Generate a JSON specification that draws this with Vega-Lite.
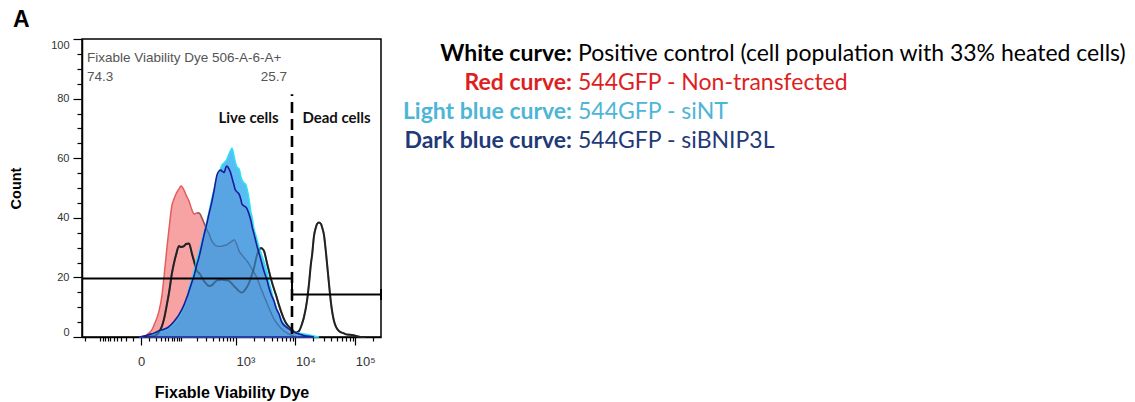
{
  "$schema": "https://vega.github.io/schema/vega-lite/v6.json",
  "padding": {"left": 7, "top": 8, "right": 0, "bottom": 0},
  "background": "white",
  "title": {"text": "A", "anchor": "start", "font": "Liberation Sans", "fontSize": 23, "fontWeight": "bold", "color": "#000", "offset": 6, "dx": 5},
  "datasets": {
    "red": [
      {"x": -2.1, "y": 0}, {"x": 3.3, "y": 0.2}, {"x": 9.6, "y": 1.3}, {"x": 14.1, "y": 2.5}, {"x": 17.4, "y": 4.0},
      {"x": 22.7, "y": 6.5}, {"x": 26.7, "y": 8.7}, {"x": 33.2, "y": 14.1}, {"x": 38.0, "y": 20.1}, {"x": 45.9, "y": 30.2},
      {"x": 51.7, "y": 36.2}, {"x": 61.3, "y": 44.3}, {"x": 68.3, "y": 46.3}, {"x": 75.9, "y": 48.0}, {"x": 88.4, "y": 49.7},
      {"x": 97.6, "y": 50.7}, {"x": 112.8, "y": 49.3}, {"x": 123.9, "y": 47.7}, {"x": 142.3, "y": 45.6}, {"x": 162.9, "y": 42.6},
      {"x": 178.0, "y": 41.3}, {"x": 203.1, "y": 41.6}, {"x": 221.4, "y": 41.6}, {"x": 251.7, "y": 39.9}, {"x": 273.9, "y": 38.3},
      {"x": 310.6, "y": 35.9}, {"x": 337.5, "y": 34.6}, {"x": 382, "y": 32.2}, {"x": 414.7, "y": 31.2}, {"x": 468.4, "y": 30.5},
      {"x": 507.9, "y": 30.4}, {"x": 573.2, "y": 30.5}, {"x": 621, "y": 30.7}, {"x": 700.1, "y": 30.9}, {"x": 758.1, "y": 31.5},
      {"x": 853.9, "y": 32.2}, {"x": 924.1, "y": 32.6}, {"x": 1040, "y": 30.9}, {"x": 1125, "y": 28.9}, {"x": 1266, "y": 27.5},
      {"x": 1369, "y": 26.7}, {"x": 1539, "y": 25.5}, {"x": 1664, "y": 24.5}, {"x": 1871, "y": 22.8}, {"x": 2022, "y": 21.8},
      {"x": 2272, "y": 19.8}, {"x": 2455, "y": 18.1}, {"x": 2758, "y": 15.4}, {"x": 2980, "y": 13.8}, {"x": 3347, "y": 11.4},
      {"x": 3616, "y": 9.7}, {"x": 4388, "y": 6.0}, {"x": 5321, "y": 3.7}, {"x": 6451, "y": 2.0}, {"x": 7822, "y": 1.0},
      {"x": 9482, "y": 0.3}, {"x": 11496, "y": 0}
    ],
    "white": [
      {"x": 3.3, "y": 0}, {"x": 9.6, "y": 0.2}, {"x": 17.4, "y": 0.3}, {"x": 26.7, "y": 1.7}, {"x": 33.2, "y": 3.7},
      {"x": 38.0, "y": 6.0}, {"x": 45.9, "y": 11.1}, {"x": 51.7, "y": 14.8}, {"x": 61.3, "y": 21.5}, {"x": 68.3, "y": 24.8},
      {"x": 75.9, "y": 27.5}, {"x": 88.4, "y": 30.5}, {"x": 97.6, "y": 30.2}, {"x": 112.8, "y": 30.5}, {"x": 123.9, "y": 31.2},
      {"x": 142.3, "y": 31.4}, {"x": 162.9, "y": 27.9}, {"x": 178, "y": 25.5}, {"x": 203.1, "y": 22.1}, {"x": 221.4, "y": 21.5},
      {"x": 251.7, "y": 20.0}, {"x": 273.9, "y": 18.8}, {"x": 310.6, "y": 17.6}, {"x": 337.5, "y": 17.1}, {"x": 382, "y": 17.4},
      {"x": 414.7, "y": 18.1}, {"x": 468.4, "y": 19.0}, {"x": 507.9, "y": 19.1}, {"x": 573.2, "y": 19.3}, {"x": 621, "y": 19.1},
      {"x": 700.1, "y": 19.0}, {"x": 758.1, "y": 18.8}, {"x": 853.9, "y": 17.8}, {"x": 924.1, "y": 17.1}, {"x": 1040, "y": 16.1},
      {"x": 1125, "y": 15.4}, {"x": 1266, "y": 14.9}, {"x": 1369, "y": 15.4}, {"x": 1539, "y": 16.8}, {"x": 1664, "y": 18.1},
      {"x": 1871, "y": 21.0}, {"x": 2022, "y": 23.2}, {"x": 2272, "y": 27.5}, {"x": 2455, "y": 29.2}, {"x": 2653, "y": 29.9},
      {"x": 2758, "y": 29.7}, {"x": 2980, "y": 28.9}, {"x": 3347, "y": 24.8}, {"x": 3616, "y": 22.1}, {"x": 3907, "y": 19.5},
      {"x": 4388, "y": 16.1}, {"x": 4739, "y": 14.1}, {"x": 5321, "y": 10.7}, {"x": 5973, "y": 7.7}, {"x": 6451, "y": 6.0},
      {"x": 6968, "y": 4.7}, {"x": 7822, "y": 3.4}, {"x": 8779, "y": 2.5}, {"x": 9482, "y": 1.8}, {"x": 10240, "y": 1.5},
      {"x": 11496, "y": 2.0}, {"x": 12899, "y": 4.4}, {"x": 13933, "y": 6.7}, {"x": 15634, "y": 12.1}, {"x": 16883, "y": 17.8},
      {"x": 18232, "y": 24.8}, {"x": 18946, "y": 27.2}, {"x": 20460, "y": 33.9}, {"x": 22094, "y": 36.9}, {"x": 22960, "y": 37.9},
      {"x": 24793, "y": 38.4}, {"x": 26773, "y": 37.9}, {"x": 27824, "y": 36.9}, {"x": 30042, "y": 34.2}, {"x": 32441, "y": 28.2},
      {"x": 33712, "y": 24.8}, {"x": 36404, "y": 17.8}, {"x": 39311, "y": 11.4}, {"x": 44126, "y": 5.4}, {"x": 53447, "y": 2.0},
      {"x": 64749, "y": 1.2}, {"x": 72662, "y": 0.8}, {"x": 88035, "y": 0.7}, {"x": 106667, "y": 0.3}, {"x": 124368, "y": 0},
      {"x": 150682, "y": 0}
    ],
    "lightblue": [
      {"x": -2.1, "y": 0}, {"x": 3.3, "y": 0.2}, {"x": 9.6, "y": 0.7}, {"x": 17.4, "y": 1.3}, {"x": 26.7, "y": 2.0},
      {"x": 38.0, "y": 2.3}, {"x": 51.7, "y": 3.0}, {"x": 68.3, "y": 4.3}, {"x": 88.4, "y": 6.5}, {"x": 112.8, "y": 10.0},
      {"x": 129.8, "y": 13.0}, {"x": 142.3, "y": 16.4}, {"x": 162.9, "y": 19.5}, {"x": 178, "y": 22.1}, {"x": 203.1, "y": 26.2},
      {"x": 221.4, "y": 28.5}, {"x": 251.7, "y": 32.2}, {"x": 273.9, "y": 34.9}, {"x": 310.6, "y": 38.9}, {"x": 337.5, "y": 41.9},
      {"x": 382, "y": 46.6}, {"x": 414.7, "y": 49.3}, {"x": 468.4, "y": 53.4}, {"x": 507.9, "y": 55.0}, {"x": 573.2, "y": 57.7},
      {"x": 621, "y": 58.4}, {"x": 672.7, "y": 59.1}, {"x": 700.1, "y": 59.7}, {"x": 758.1, "y": 61.4}, {"x": 820.7, "y": 62.8},
      {"x": 853.9, "y": 63.3}, {"x": 924.1, "y": 60.7}, {"x": 961.3, "y": 59.1}, {"x": 1040, "y": 57.0}, {"x": 1125, "y": 56.4},
      {"x": 1217, "y": 53.7}, {"x": 1266, "y": 52.7}, {"x": 1369, "y": 51.7}, {"x": 1480, "y": 51.0}, {"x": 1539, "y": 49.7},
      {"x": 1664, "y": 46.3}, {"x": 1799, "y": 41.6}, {"x": 1871, "y": 40.3}, {"x": 2022, "y": 36.2}, {"x": 2185, "y": 33.9},
      {"x": 2272, "y": 32.6}, {"x": 2455, "y": 30.2}, {"x": 2653, "y": 28.2}, {"x": 2758, "y": 27.2}, {"x": 2980, "y": 25.2},
      {"x": 3347, "y": 21.8}, {"x": 3616, "y": 18.5}, {"x": 3907, "y": 16.0}, {"x": 4388, "y": 12.1}, {"x": 4739, "y": 10.1},
      {"x": 5321, "y": 7.7}, {"x": 5973, "y": 5.4}, {"x": 6451, "y": 4.4}, {"x": 7822, "y": 2.7}, {"x": 9482, "y": 1.8},
      {"x": 11496, "y": 1.3}, {"x": 13933, "y": 1.0}, {"x": 16883, "y": 0.7}, {"x": 20460, "y": 0.3}, {"x": 24793, "y": 0}
    ],
    "darkblue": [
      {"x": -2.1, "y": 0}, {"x": 3.3, "y": 0.3}, {"x": 9.6, "y": 0.8}, {"x": 17.4, "y": 1.3}, {"x": 26.7, "y": 2.1},
      {"x": 38.0, "y": 2.6}, {"x": 51.7, "y": 3.5}, {"x": 68.3, "y": 5.2}, {"x": 88.4, "y": 7.5}, {"x": 112.8, "y": 10.8},
      {"x": 129.8, "y": 13.4}, {"x": 142.3, "y": 15.4}, {"x": 162.9, "y": 18.5}, {"x": 178, "y": 20.5}, {"x": 203.1, "y": 24.5},
      {"x": 221.4, "y": 26.8}, {"x": 251.7, "y": 31.2}, {"x": 273.9, "y": 34.2}, {"x": 310.6, "y": 38.3}, {"x": 337.5, "y": 41.3},
      {"x": 382, "y": 45.6}, {"x": 414.7, "y": 49.0}, {"x": 468.4, "y": 54.4}, {"x": 507.9, "y": 55.7}, {"x": 550.6, "y": 56.0},
      {"x": 573.2, "y": 55.7}, {"x": 621, "y": 55.2}, {"x": 672.7, "y": 57.0}, {"x": 700.1, "y": 57.4}, {"x": 758.1, "y": 56.4},
      {"x": 820.7, "y": 54.7}, {"x": 853.9, "y": 53.4}, {"x": 924.1, "y": 51.0}, {"x": 961.3, "y": 49.7}, {"x": 1040, "y": 48.7},
      {"x": 1125, "y": 48.0}, {"x": 1217, "y": 46.0}, {"x": 1266, "y": 44.6}, {"x": 1369, "y": 44.0}, {"x": 1480, "y": 43.5},
      {"x": 1539, "y": 43.0}, {"x": 1664, "y": 41.3}, {"x": 1799, "y": 38.9}, {"x": 1871, "y": 37.2}, {"x": 2022, "y": 34.6},
      {"x": 2185, "y": 31.9}, {"x": 2272, "y": 30.5}, {"x": 2455, "y": 28.2}, {"x": 2653, "y": 25.8}, {"x": 2758, "y": 24.5},
      {"x": 2980, "y": 22.1}, {"x": 3347, "y": 19.1}, {"x": 3616, "y": 16.5}, {"x": 3907, "y": 14.4}, {"x": 4388, "y": 12.1},
      {"x": 4739, "y": 9.8}, {"x": 5321, "y": 7.7}, {"x": 5973, "y": 4.8}, {"x": 6451, "y": 4.0}, {"x": 7822, "y": 2.7},
      {"x": 9482, "y": 1.7}, {"x": 11496, "y": 1.0}, {"x": 13933, "y": 0.5}, {"x": 16883, "y": 0.2}, {"x": 20460, "y": 0}
    ],
    "gateH": [{"x": -231, "x2": 8779, "y": 19.6}, {"x": 8779, "x2": 268000, "y": 14.3}],
    "gateTicks": [{"x": 8779, "y": 12.1, "y2": 19.9}, {"x": 268000, "y": 12.4, "y2": 16.1}],
    "divider": [{"x": 8779, "y": 1, "y2": 81.5}],
    "notesLeft": [{"t": "Fixable Viability Dye 506-A-6-A+", "x": -186, "y": 93.6}, {"t": "74.3", "x": -186, "y": 87.2}],
    "notesRight": [{"t": "25.7", "x": 7244, "y": 87.2}],
    "cellLabels": [{"t": "Live cells", "x": 1632, "y": 73.5}, {"t": "Dead cells", "x": 48562, "y": 73.5}],
    "legendRows": [
      {"i": 0, "k": "White", "label": "White curve:", "desc": "Positive control (cell population with 33% heated cells)"},
      {"i": 1, "k": "Red", "label": "Red curve:", "desc": "544GFP - Non-transfected"},
      {"i": 2, "k": "Light blue", "label": "Light blue curve:", "desc": "544GFP - siNT"},
      {"i": 3, "k": "Dark blue", "label": "Dark blue curve:", "desc": "544GFP - siBNIP3L"}
    ]
  },
  "spacing": 10,
  "hconcat": [
    {
      "width": 299,
      "height": 298,
      "view": {"stroke": "#000", "strokeWidth": 1.5},
      "layer": [
        {
          "data": {"name": "red"},
          "mark": {"type": "area", "interpolate": "monotone", "fill": "#f7a3a3", "fillOpacity": 1, "stroke": "#e35d5d", "strokeWidth": 1.5},
          "encoding": {
            "x": {
              "field": "x", "type": "quantitative",
              "scale": {"type": "symlog", "constant": 26.8, "domain": [-231, 268000], "nice": false, "zero": false},
              "axis": {
                "title": "Fixable Viability Dye",
                "grid": false,
                "tickCount": 1000,
                "values": [-200, -100, -90, -80, -70, -60, -50, -40, -30, -20, -10, 0, 10, 20, 30, 40, 50, 60, 70, 80, 90, 100, 200, 300, 400, 500, 600, 700, 800, 900, 1000, 2000, 3000, 4000, 5000, 6000, 7000, 8000, 9000, 10000, 20000, 30000, 40000, 50000, 60000, 70000, 80000, 90000, 100000, 200000],
                "labelExpr": "datum.value == 0 ? '0' : datum.value == 1000 ? '10³' : datum.value == 10000 ? '10⁴' : datum.value == 100000 ? '10⁵' : ''",
                "labelOverlap": false, "labelBound": false, "labelFlush": false,
                "labelAlign": {"condition": {"test": "datum.value == 0", "value": "center"}, "value": "left"},
                "tickSize": {"condition": {"test": "datum.value == 0 || datum.value == 1000 || datum.value == 10000 || datum.value == 100000", "value": 8}, "value": 4},
                "tickColor": "#000", "tickWidth": 1.2,
                "domainColor": "#000", "domainWidth": 1.5,
                "labelFont": "Liberation Sans", "labelFontSize": 13, "labelColor": "#333", "labelPadding": 10,
                "titleFont": "Liberation Sans", "titleFontSize": 16, "titleFontWeight": "bold", "titleColor": "#000", "titlePadding": 16
              }
            },
            "y": {
              "field": "y", "type": "quantitative",
              "scale": {"domain": [0, 100], "nice": false},
              "axis": {
                "title": "Count",
                "grid": false,
                "tickCount": 1000,
                "values": [0, 5, 10, 15, 20, 25, 30, 35, 40, 45, 50, 55, 60, 65, 70, 75, 80, 85, 90, 95, 100],
                "labelExpr": "datum.value % 20 == 0 ? format(datum.value, 'd') : ''",
                "labelOverlap": false, "labelFlush": true,
                "tickSize": {"condition": {"test": "datum.value % 20 == 0", "value": 9}, "value": 5},
                "tickColor": "#000", "tickWidth": 1.2,
                "domainColor": "#000", "domainWidth": 1.5,
                "labelFont": "Liberation Sans", "labelFontSize": 11, "labelColor": "#333", "labelPadding": 4,
                "titleFont": "Liberation Sans", "titleFontSize": 14.5, "titleFontWeight": "bold", "titleColor": "#000", "titlePadding": 27
              }
            }
          }
        },
        {
          "data": {"name": "white"},
          "mark": {"type": "line", "interpolate": "monotone", "color": "#222", "strokeWidth": 2},
          "encoding": {"x": {"field": "x", "type": "quantitative"}, "y": {"field": "y", "type": "quantitative"}}
        },
        {
          "data": {"name": "lightblue"},
          "mark": {"type": "area", "interpolate": "monotone", "fill": "#3cb2f2", "fillOpacity": 0.85, "stroke": "#2fe0f2", "strokeWidth": 1.6},
          "encoding": {"x": {"field": "x", "type": "quantitative"}, "y": {"field": "y", "type": "quantitative"}}
        },
        {
          "data": {"name": "darkblue"},
          "mark": {"type": "area", "interpolate": "monotone", "fill": "#5a8fd6", "fillOpacity": 0.55, "stroke": "#1b1b9c", "strokeWidth": 1.6},
          "encoding": {"x": {"field": "x", "type": "quantitative"}, "y": {"field": "y", "type": "quantitative"}}
        },
        {
          "data": {"name": "white"},
          "mark": {"type": "line", "interpolate": "monotone", "color": "#222", "strokeWidth": 1.8, "opacity": 0.4},
          "encoding": {"x": {"field": "x", "type": "quantitative"}, "y": {"field": "y", "type": "quantitative"}}
        },
        {
          "data": {"name": "red"},
          "transform": [{"filter": "datum.x > 200"}],
          "mark": {"type": "line", "interpolate": "monotone", "color": "#34486a", "strokeWidth": 1.4, "opacity": 0.45},
          "encoding": {"x": {"field": "x", "type": "quantitative"}, "y": {"field": "y", "type": "quantitative"}}
        },
        {
          "data": {"name": "gateH"},
          "mark": {"type": "rule", "color": "#000", "strokeWidth": 2},
          "encoding": {"x": {"field": "x", "type": "quantitative"}, "x2": {"field": "x2"}, "y": {"field": "y", "type": "quantitative"}}
        },
        {
          "data": {"name": "gateTicks"},
          "mark": {"type": "rule", "color": "#000", "strokeWidth": 2},
          "encoding": {"x": {"field": "x", "type": "quantitative"}, "y": {"field": "y", "type": "quantitative"}, "y2": {"field": "y2"}}
        },
        {
          "data": {"name": "divider"},
          "mark": {"type": "rule", "color": "#000", "strokeWidth": 2.6, "strokeDash": [11, 6]},
          "encoding": {"x": {"field": "x", "type": "quantitative"}, "y": {"field": "y", "type": "quantitative"}, "y2": {"field": "y2"}}
        },
        {
          "data": {"name": "notesLeft"},
          "mark": {"type": "text", "align": "left", "baseline": "middle", "font": "Liberation Sans", "fontSize": 13.5, "color": "#555"},
          "encoding": {"x": {"field": "x", "type": "quantitative"}, "y": {"field": "y", "type": "quantitative"}, "text": {"field": "t"}}
        },
        {
          "data": {"name": "notesRight"},
          "mark": {"type": "text", "align": "right", "baseline": "middle", "font": "Liberation Sans", "fontSize": 13.5, "color": "#555"},
          "encoding": {"x": {"field": "x", "type": "quantitative"}, "y": {"field": "y", "type": "quantitative"}, "text": {"field": "t"}}
        },
        {
          "data": {"name": "cellLabels"},
          "mark": {"type": "text", "align": "center", "baseline": "middle", "font": "Lato", "fontSize": 15, "fontWeight": "bold", "color": "#111"},
          "encoding": {"x": {"field": "x", "type": "quantitative"}, "y": {"field": "y", "type": "quantitative"}, "text": {"field": "t"}}
        }
      ]
    },
    {
      "width": 364,
      "height": {"step": 29},
      "view": {"stroke": null},
      "data": {"name": "legendRows"},
      "encoding": {
        "y": {"field": "i", "type": "ordinal", "axis": null},
        "x": {"datum": 0, "type": "quantitative", "scale": {"domain": [-1, 1]}, "axis": null},
        "color": {
          "field": "k", "type": "nominal", "legend": null,
          "scale": {"domain": ["White", "Red", "Light blue", "Dark blue"], "range": ["#000000", "#dd1f1f", "#4db5d6", "#1f3a78"]}
        }
      },
      "layer": [
        {
          "mark": {"type": "text", "align": "right", "baseline": "middle", "dx": -3, "font": "Lato", "fontSize": 23, "fontWeight": "bold"},
          "encoding": {"text": {"field": "label"}}
        },
        {
          "mark": {"type": "text", "align": "left", "baseline": "middle", "dx": 3, "font": "Lato", "fontSize": 23},
          "encoding": {"text": {"field": "desc"}}
        }
      ]
    }
  ]
}
